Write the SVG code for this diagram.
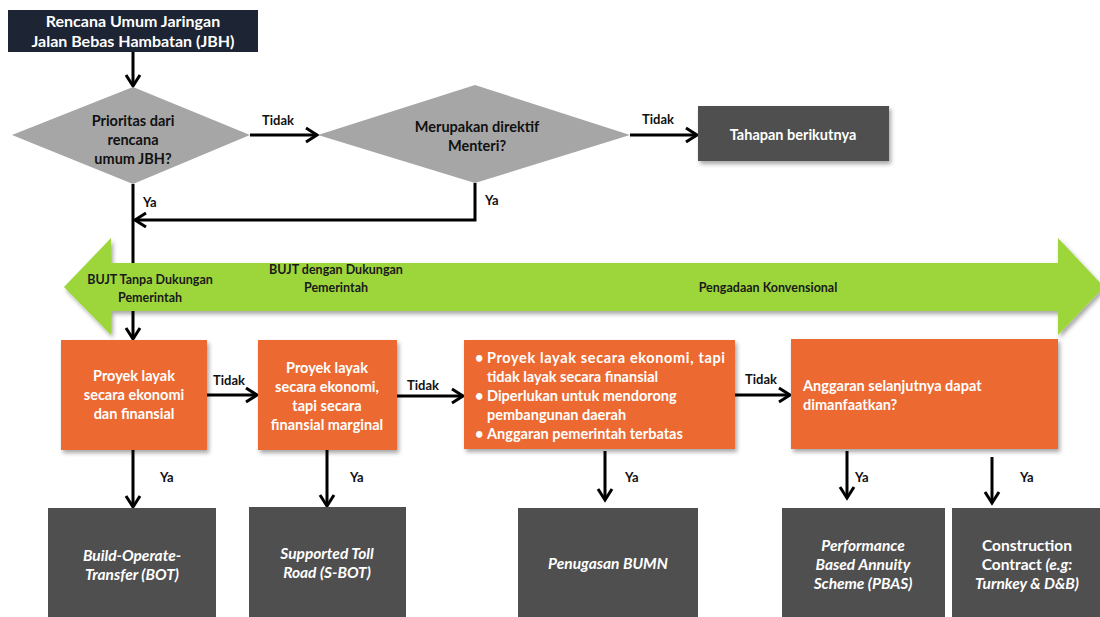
<svg xmlns="http://www.w3.org/2000/svg" width="1100" height="617" viewBox="0 0 1100 617">
<style>
text{font-family:Lato,"Open Sans","Liberation Sans",sans-serif;font-weight:bold}
.w{fill:#ffffff;font-size:14.5px}
.t{fill:#ffffff;font-size:16px}
.bb{fill:#ffffff;font-size:15.5px}
.k{fill:#111111;font-size:14.5px}
.lbl{fill:#111111;font-size:13px}
.g{fill:#1a1a1a;font-size:12.5px}
.c{text-anchor:middle}
.i{font-style:italic}
.dark{fill:#4f4f4f}
.org{fill:#ec6a30}
.dia{fill:#a6a6a6}
.ln{stroke:#000;stroke-width:3;fill:none}
</style>
<defs>
<filter id="sh" x="-10%" y="-10%" width="130%" height="140%">
<feDropShadow dx="2" dy="3" stdDeviation="2" flood-color="#000" flood-opacity="0.35"/>
</filter>
<marker id="ah" markerUnits="userSpaceOnUse" markerWidth="18" markerHeight="18" viewBox="0 0 18 18" refX="15" refY="9" orient="auto">
<path d="M4,2 L15,9 L4,16" fill="none" stroke="#000" stroke-width="3"/>
</marker>
</defs>

<g id="connectors">
<line class="ln" x1="133" y1="52" x2="133" y2="86" marker-end="url(#ah)"/>
<line class="ln" x1="250" y1="135" x2="317" y2="135" marker-end="url(#ah)"/>
<line class="ln" x1="630" y1="135" x2="697" y2="135" marker-end="url(#ah)"/>
<polyline class="ln" points="475,183 475,220 135,220" marker-end="url(#ah)"/>
<line class="ln" x1="133" y1="184" x2="133" y2="339" marker-end="url(#ah)"/>
<line class="ln" x1="207" y1="395" x2="257" y2="395" marker-end="url(#ah)"/>
<line class="ln" x1="397" y1="396" x2="463" y2="396" marker-end="url(#ah)"/>
<line class="ln" x1="735" y1="395" x2="790" y2="395" marker-end="url(#ah)"/>
<line class="ln" x1="133" y1="450" x2="133" y2="507" marker-end="url(#ah)"/>
<line class="ln" x1="327" y1="450" x2="327" y2="506" marker-end="url(#ah)"/>
<line class="ln" x1="605" y1="451" x2="605" y2="500" marker-end="url(#ah)"/>
<line class="ln" x1="847" y1="451" x2="847" y2="498" marker-end="url(#ah)"/>
<line class="ln" x1="992" y1="457" x2="992" y2="503" marker-end="url(#ah)"/>
<text class="lbl" x="262" y="125">Tidak</text>
<text class="lbl" x="642" y="124">Tidak</text>
<text class="lbl" x="143" y="207">Ya</text>
<text class="lbl" x="485" y="205">Ya</text>
<text class="lbl" x="213" y="385">Tidak</text>
<text class="lbl" x="407" y="390">Tidak</text>
<text class="lbl" x="745" y="384">Tidak</text>
<text class="lbl" x="160" y="482">Ya</text>
<text class="lbl" x="350" y="482">Ya</text>
<text class="lbl" x="625" y="482">Ya</text>
<text class="lbl" x="855" y="482">Ya</text>
<text class="lbl" x="1020" y="482">Ya</text>
</g>

<g id="green-arrow">
<polygon points="64,287 111,238 111,263 1058,263 1058,238 1104,287 1058,335 1058,311 111,311 111,335" fill="#9dd63a" filter="url(#sh)"/>
<text class="g c" x="150" y="284">BUJT Tanpa Dukungan</text>
<text class="g c" x="150" y="302">Pemerintah</text>
<text class="g c" x="336" y="274">BUJT dengan Dukungan</text>
<text class="g c" x="336" y="292">Pemerintah</text>
<text class="g c" x="768" y="292">Pengadaan Konvensional</text>
</g>

<g id="start">
<rect x="8" y="10" width="250" height="42" fill="#1d2434"/>
<text class="t c" x="133" y="27">Rencana Umum Jaringan</text>
<text class="t c" x="133" y="47">Jalan Bebas Hambatan (JBH)</text>
</g>

<g id="d1">
<polygon class="dia" points="12,135 133,87 250,135 133,184"/>
<text class="k c" x="133" y="126">Prioritas dari</text>
<text class="k c" x="133" y="145">rencana</text>
<text class="k c" x="133" y="164">umum JBH?</text>
</g>

<g id="d2">
<polygon class="dia" points="318,135 475,85 630,135 475,183"/>
<text class="k c" x="477" y="132">Merupakan direktif</text>
<text class="k c" x="477" y="151">Menteri?</text>
</g>

<g id="next">
<rect class="dark" x="698" y="106" width="191" height="55" filter="url(#sh)"/>
<text class="w c" x="793" y="140">Tahapan berikutnya</text>
</g>

<g id="o1">
<rect class="org" x="61" y="340" width="146" height="110" filter="url(#sh)"/>
<text class="w c" x="134" y="381">Proyek layak</text>
<text class="w c" x="134" y="400">secara ekonomi</text>
<text class="w c" x="134" y="419">dan finansial</text>
</g>

<g id="o2">
<rect class="org" x="258" y="340" width="139" height="110" filter="url(#sh)"/>
<text class="w c" x="327" y="373">Proyek layak</text>
<text class="w c" x="327" y="392">secara ekonomi,</text>
<text class="w c" x="327" y="411">tapi secara</text>
<text class="w c" x="327" y="430">finansial marginal</text>
</g>

<g id="o3">
<rect class="org" x="464" y="340" width="271" height="109" filter="url(#sh)"/>
<text class="w" x="475" y="363">•</text>
<text class="w" x="487" y="363" textLength="238" lengthAdjust="spacing">Proyek layak secara ekonomi, tapi</text>
<text class="w" x="487" y="382">tidak layak secara finansial</text>
<text class="w" x="475" y="401">•</text>
<text class="w" x="487" y="401">Diperlukan untuk mendorong</text>
<text class="w" x="487" y="420">pembangunan daerah</text>
<text class="w" x="475" y="439">•</text>
<text class="w" x="487" y="439">Anggaran pemerintah terbatas</text>
</g>

<g id="o4">
<rect class="org" x="791" y="339" width="267" height="110" filter="url(#sh)"/>
<text class="w" x="803" y="391">Anggaran selanjutnya dapat</text>
<text class="w" x="803" y="410">dimanfaatkan?</text>
</g>

<g id="b1">
<rect class="dark" x="48" y="508" width="168" height="115"/>
<text class="bb c i" x="132" y="561">Build-Operate-</text>
<text class="bb c i" x="132" y="580">Transfer (BOT)</text>
</g>

<g id="b2">
<rect class="dark" x="249" y="507" width="157" height="116"/>
<text class="bb c i" x="327" y="559">Supported Toll</text>
<text class="bb c i" x="327" y="578">Road (S-BOT)</text>
</g>

<g id="b3">
<rect class="dark" x="518" y="508" width="180" height="115"/>
<text class="bb c i" x="608" y="569">Penugasan BUMN</text>
</g>

<g id="b4">
<rect class="dark" x="782" y="508" width="163" height="115"/>
<text class="bb c i" x="863" y="551">Performance</text>
<text class="bb c i" x="863" y="570">Based Annuity</text>
<text class="bb c i" x="863" y="589">Scheme (PBAS)</text>
</g>

<g id="b5">
<rect class="dark" x="952" y="508" width="150" height="115"/>
<text class="bb c" x="1027" y="551">Construction</text>
<text class="bb c" x="1027" y="570">Contract <tspan class="i">(e.g:</tspan></text>
<text class="bb c i" x="1027" y="589">Turnkey &amp; D&amp;B)</text>
</g>
</svg>
